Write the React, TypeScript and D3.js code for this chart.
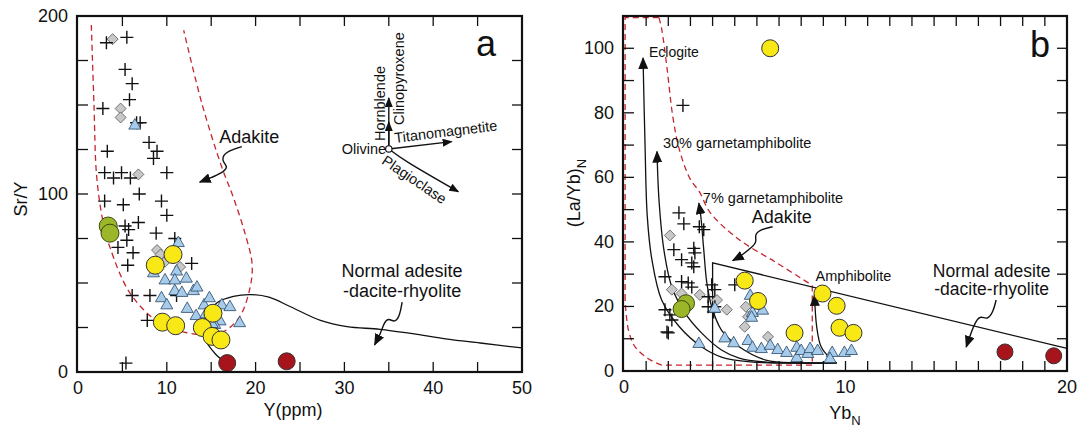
import * as d3 from "d3";

type Pt = [number, number];

// ---------- panel a : Sr/Y vs Y(ppm) ----------
const aCrosses: Pt[] = [
  [3.2, 185], [5.5, 188], [5.3, 170], [6.1, 162], [5.8, 153], [2.8, 148], [6.6, 140], [7.0, 140],
  [3.3, 124], [8.0, 129], [8.9, 124], [8.5, 120], [10.0, 112], [3.0, 112], [4.0, 109], [4.9, 112],
  [5.9, 109], [3.0, 96], [5.1, 94], [6.9, 100], [9.4, 96], [10.0, 88], [5.3, 82], [5.7, 80],
  [6.8, 84], [5.5, 74], [4.5, 70], [6.2, 67], [5.6, 60], [8.8, 78], [10.9, 75], [12.8, 61],
  [6.1, 43], [8.1, 43], [11.1, 43], [7.8, 29], [5.4, 5],
];
const aDiamonds: Pt[] = [
  [3.9, 187], [4.8, 148], [4.8, 143], [6.8, 111], [8.9, 68.5], [9.3, 66], [9.8, 62], [11.5, 59],
];
const aTriangles: Pt[] = [
  [6.4, 139], [11.3, 73], [11.1, 57], [8.5, 56], [9.8, 52], [10.9, 52], [12.2, 53], [10.9, 46],
  [11.7, 45], [13.0, 46], [13.4, 48], [9.4, 42], [10.0, 38], [12.3, 36], [13.3, 32], [14.2, 38],
  [14.8, 42], [16.2, 38], [17.1, 37], [14.4, 33], [16.0, 29], [15.4, 27], [15.1, 27.5], [18.2, 28],
];
const aYellow: Pt[] = [
  [10.7, 66], [8.7, 60], [9.5, 28], [11.0, 26], [15.2, 33], [14.0, 25], [15.1, 20], [16.1, 18],
];
const aGreen: Pt[] = [[3.4, 82], [3.6, 78]];
const aRed: Pt[] = [[16.8, 5], [23.5, 6]];

const aAdakite: Pt[] = [
  [1.5, 195], [1.8, 150], [2.1, 110], [2.8, 85], [3.6, 70], [5.9, 44], [9.2, 27.5], [12.3, 22],
  [14.1, 21], [16.3, 22.5], [18.2, 31], [19.4, 48], [19.6, 61], [18.8, 78], [17.5, 98],
  [16.2, 115], [14, 150], [11.9, 192],
];
const aNormal: Pt[] = [
  [17.3, 3], [15.5, 10], [14.2, 20], [14.3, 30], [15.7, 39], [17.5, 42.5], [19.5, 43.5],
  [21.5, 42], [24, 36.5], [27.3, 29], [30.3, 25.5], [34, 24], [37.7, 21.5], [41.6, 18.5],
  [45.3, 16.3], [50, 13.5],
];
const aAdakiteArrow: Pt[] = [
  [18.45, 126.6], [16.9, 124.2], [16.2, 120.8], [16.4, 117.4], [16.9, 115.2], [16.2, 111.8],
  [14.9, 109], [13.7, 106.7],
];
const aNormalArrow: Pt[] = [
  [36.5, 39.3], [36.26, 32], [35.7, 27.5], [35.0, 30.3], [34.5, 28.1], [34.1, 21.9], [33.4, 15.2],
];
const vecOrigin: Pt = [35.0, 125.3];
const vecHbl: Pt = [35.0, 153.9];
const vecCpx: Pt = [35.0, 140.4];
const vecTimt: Pt = [42.08, 129.4];
const vecPlag: Pt[] = [[35.0, 125.3], [37.4, 117.1], [42.83, 101.3]];

// ---------- panel b : (La/Yb)N vs YbN ----------
const bCrosses: Pt[] = [
  [2.66, 82.3], [2.48, 49], [2.7, 45.6], [3.4, 44.7], [3.6, 43.8], [2.25, 37.6], [2.6, 34.5],
  [3.15, 38], [3.2, 36.6], [3.06, 33.5], [3.15, 32.3], [1.85, 29.2], [2.6, 27.7], [2.9, 27.3],
  [3.06, 26], [3.96, 26.7], [4.1, 25.2], [3.8, 23], [3.8, 19.9], [4.1, 19.9], [4.05, 18.3],
  [1.85, 19], [2.07, 17.4], [2.16, 15.8], [1.94, 12.1], [2.0, 11.8], [5.0, 26.7],
];
const bDiamonds: Pt[] = [
  [2.07, 42], [2.16, 25.2], [2.6, 24], [3.42, 23.6], [4.2, 22], [4.64, 19], [5.5, 19.9],
  [5.6, 16.8], [5.45, 13.7], [6.5, 10.6],
];
const bTriangles: Pt[] = [
  [3.38, 8.7], [4.1, 19.6], [4.55, 10.4], [4.95, 8.9], [5.7, 23.6], [5.8, 18.3], [5.76, 16.8],
  [6.26, 19], [5.6, 9.6], [5.8, 7.5], [6.2, 7.1], [6.6, 8.1], [6.94, 6.8], [7.34, 5.9],
  [7.8, 7.5], [7.8, 4.3], [8.0, 6.5], [8.3, 5.6], [8.4, 7.1], [8.74, 6.5], [9.4, 5.9],
  [9.3, 4], [9.95, 5.9], [10.27, 6.5],
];
const bYellow: Pt[] = [
  [6.6, 100], [5.45, 28], [6.05, 21.7], [7.7, 11.8], [8.96, 24], [9.6, 20.2], [9.73, 13.4],
  [10.36, 11.8],
];
const bGreen: Pt[] = [[2.8, 21], [2.6, 19.2]];
const bRed: Pt[] = [[17.2, 5.9], [19.4, 4.7]];

const bAdakiteTop: Pt[] = [[0.05, 22], [0.05, 109.5], [1.58, 109.5]];
const bAdakiteCurve: Pt[] = [
  [1.58, 109.5], [1.7, 106], [1.94, 94], [2.2, 79], [2.5, 68.6], [3.0, 59.3], [3.4, 55.6],
  [3.9, 49], [5.2, 40.7], [6.9, 33.5], [8.5, 26.5],
];
const bAdakiteSide: Pt[] = [[8.5, 26.5], [8.5, 1.8], [1.7, 1.8]];
const bAdakiteCorner: Pt[] = [[1.7, 1.8], [1.1, 3.8], [0.5, 7.5], [0.2, 12.7], [0.05, 22]];

const eclogite: Pt[] = [
  [0.86, 97], [0.95, 70], [1.05, 48], [1.26, 34.5], [1.7, 22], [2.5, 13.7], [3.5, 7.5],
  [4.4, 4.3], [5.7, 2.8], [7.5, 2.5], [9.6, 2.5],
];
const garnet30: Pt[] = [
  [1.49, 68], [1.58, 53], [1.8, 37.6], [2.16, 26], [2.75, 18], [3.5, 11.8], [4.4, 6.5],
  [5.2, 4], [6.5, 2.7], [9.6, 2.5],
];
const garnet7: Pt[] = [
  [3.38, 52], [3.47, 47.8], [3.6, 37.6], [3.74, 27.3], [3.96, 19.9], [4.4, 12.7], [5.2, 7.5],
  [6.4, 3.4], [7.9, 2.5], [9.6, 2.5],
];
const amphibolite: Pt[] = [[8.6, 23.6], [8.7, 13.7], [8.9, 7.5], [9.3, 4], [9.6, 2.5]];
const bNormalBox: Pt[] = [[4.0, 1.2], [4.0, 33.5], [20, 7]];
const bAdakiteArrow: Pt[] = [
  [6.71, 44.7], [6.13, 43.8], [5.9, 42.2], [5.99, 40.1], [5.81, 38.5], [5.23, 35.4], [4.91, 34.2],
];
const bNormalArrow: Pt[] = [
  [16.8, 22], [16.67, 18.3], [16.4, 15.8], [16.13, 17.1], [15.9, 15.8], [15.68, 12.1], [15.45, 7.45],
];

const FONT = "'Liberation Sans', Arial, Helvetica, sans-serif";
const RED = "#c4262e";
const INK = "#111";

const aX = d3.scaleLinear().domain([0, 50]).range([78, 522]);
const aY = d3.scaleLinear().domain([0, 200]).range([372, 16]);
const bX = d3.scaleLinear().domain([0, 20]).range([624, 1067]);
const bY = d3.scaleLinear().domain([0, 110]).range([371, 16]);

type Scale = d3.ScaleLinear<number, number>;

const pathOf = (sx: Scale, sy: Scale, pts: Pt[], curve: d3.CurveFactory = d3.curveLinear) =>
  d3.line<Pt>().x(d => sx(d[0])).y(d => sy(d[1])).curve(curve)(pts) || "";

function Axes({ sx, sy, xt, yt, xl, yl }: { sx: Scale; sy: Scale; xt: number[]; yt: number[]; xl: number[]; yl: number[] }) {
  const [x0, x1] = sx.range();
  const [y0, y1] = sy.range();
  const tl = 10;
  return (
    <g stroke={INK}>
      {xt.map(v => (
        <g key={"x" + v} strokeWidth={1.3}>
          <line x1={sx(v)} x2={sx(v)} y1={y0} y2={y0 - tl} />
          <line x1={sx(v)} x2={sx(v)} y1={y1} y2={y1 + tl} />
        </g>
      ))}
      {yt.map(v => (
        <g key={"y" + v} strokeWidth={1.3}>
          <line x1={x0} x2={x0 + tl} y1={sy(v)} y2={sy(v)} />
          <line x1={x1} x2={x1 - tl} y1={sy(v)} y2={sy(v)} />
        </g>
      ))}
      <rect x={x0 - 1} y={y1} width={x1 - x0 + 1} height={y0 - y1} fill="none" strokeWidth={2.2} />
      <g stroke="none" fill={INK} fontSize={18}>
        {xl.map(v => (
          <text key={"xl" + v} x={sx(v)} y={y0 + 22} textAnchor="middle">{v}</text>
        ))}
        {yl.map(v => (
          <text key={"yl" + v} x={x0 - 10} y={sy(v) + 6} textAnchor="end">{v}</text>
        ))}
      </g>
    </g>
  );
}

function Scatter({ sx, sy, crosses, diamonds, triangles, green, yellow, red, r }: {
  sx: Scale; sy: Scale; crosses: Pt[]; diamonds: Pt[]; triangles: Pt[]; green: Pt[]; yellow: Pt[]; red: Pt[]; r: number;
}) {
  const s = 6.5;
  return (
    <g>
      {diamonds.map(([a, b], i) => {
        const cx = sx(a), cy = sy(b);
        return <path key={"d" + i} d={`M${cx},${cy - 5.5}L${cx + 5.5},${cy}L${cx},${cy + 5.5}L${cx - 5.5},${cy}Z`}
          fill="#c8c8c8" stroke="#555" strokeWidth={0.8} />;
      })}
      {crosses.map(([a, b], i) => {
        const cx = sx(a), cy = sy(b);
        return <path key={"c" + i} d={`M${cx - s},${cy}H${cx + s}M${cx},${cy - s}V${cy + s}`}
          stroke={INK} strokeWidth={1.4} fill="none" />;
      })}
      {triangles.map(([a, b], i) => {
        const cx = sx(a), cy = sy(b);
        return <path key={"t" + i} d={`M${cx},${cy - 6}L${cx + 6},${cy + 4.5}L${cx - 6},${cy + 4.5}Z`}
          fill="#a7cbea" stroke="#274766" strokeWidth={0.8} />;
      })}
      {green.map(([a, b], i) => (
        <circle key={"g" + i} cx={sx(a)} cy={sy(b)} r={r} fill="#9bb628" stroke="#3b4a12" strokeWidth={1} />
      ))}
      {yellow.map(([a, b], i) => (
        <circle key={"y" + i} cx={sx(a)} cy={sy(b)} r={r} fill="#f8e815" stroke="#333" strokeWidth={1} />
      ))}
      {red.map(([a, b], i) => (
        <circle key={"r" + i} cx={sx(a)} cy={sy(b)} r={r - 0.5} fill="#a8141c" stroke="#333" strokeWidth={1} />
      ))}
    </g>
  );
}

export default function App() {
  const cat = d3.curveCatmullRom.alpha(0.5);
  const dash = "6 4";
  const o = [aX(vecOrigin[0]), aY(vecOrigin[1])];
  return (
    <svg width={1082} height={429} style={{ position: "absolute", left: 0, top: 0, background: "#fff" }}
      fontFamily={FONT}>
      <defs>
        <marker id="ah" viewBox="0 0 12 10" refX="11" refY="5" markerWidth="12" markerHeight="10"
          markerUnits="userSpaceOnUse" orient="auto">
          <path d="M0,0L12,5L0,10Z" fill={INK} />
        </marker>
        <marker id="ahs" viewBox="0 0 10 8" refX="9" refY="4" markerWidth="10" markerHeight="8"
          markerUnits="userSpaceOnUse" orient="auto">
          <path d="M0,0L10,4L0,8Z" fill={INK} />
        </marker>
      </defs>

      {/* ---------- panel a ---------- */}
      <path d={pathOf(aX, aY, aAdakite, cat)} fill="none" stroke={RED} strokeWidth={1.3} strokeDasharray={dash} />
      <path d={pathOf(aX, aY, aNormal, cat)} fill="none" stroke={INK} strokeWidth={1.3} />
      <Scatter sx={aX} sy={aY} crosses={aCrosses} diamonds={aDiamonds} triangles={aTriangles}
        green={aGreen} yellow={aYellow} red={aRed} r={9} />
      <Axes sx={aX} sy={aY} xt={d3.range(5, 50, 5)} yt={d3.range(25, 200, 25)}
        xl={[0, 10, 20, 30, 40, 50]} yl={[0, 100, 200]} />

      <path d={pathOf(aX, aY, aAdakiteArrow, d3.curveBasis)} fill="none" stroke={INK} strokeWidth={1.4} markerEnd="url(#ah)" />
      <path d={pathOf(aX, aY, aNormalArrow, d3.curveBasis)} fill="none" stroke={INK} strokeWidth={1.4} markerEnd="url(#ah)" />
      <text x={aX(15.9)} y={aY(128.6)} fontSize={18} fill={INK}>Adakite</text>
      <text x={aX(36.5)} y={aY(53.4)} fontSize={18} fill={INK} textAnchor="middle">Normal adesite</text>
      <text x={aX(36.5)} y={aY(42.1)} fontSize={18} fill={INK} textAnchor="middle">-dacite-rhyolite</text>

      {/* mineral vectors */}
      <g fill="none" stroke={INK} strokeWidth={1.4}>
        <line x1={o[0]} y1={o[1]} x2={aX(vecHbl[0])} y2={aY(vecHbl[1])} markerEnd="url(#ahs)" />
        <line x1={o[0]} y1={o[1]} x2={aX(vecCpx[0])} y2={aY(vecCpx[1])} markerEnd="url(#ahs)" />
        <line x1={o[0]} y1={o[1]} x2={aX(vecTimt[0])} y2={aY(vecTimt[1])} markerEnd="url(#ahs)" />
        <path d={pathOf(aX, aY, vecPlag, d3.curveNatural)} markerEnd="url(#ahs)" />
      </g>
      <circle cx={o[0]} cy={o[1]} r={3.2} fill="#fff" stroke={INK} strokeWidth={1.2} />
      <g fontSize={14.5} fill={INK}>
        <text x={aX(34.7)} y={aY(122.5)} textAnchor="end">Olivine</text>
        <text transform={`translate(${aX(34.57)},${aY(129.8)}) rotate(-90)`}>Hornblende</text>
        <text transform={`translate(${aX(36.66)},${aY(138.8)}) rotate(-90)`}>Clinopyroxene</text>
        <text transform={`translate(${aX(35.7)},${aY(128.7)}) rotate(-7)`}>Titanomagnetite</text>
        <text transform={`translate(${aX(34.1)},${aY(117.4)}) rotate(34)`}>Plagioclase</text>
      </g>
      <text x={486} y={56} fontSize={36} textAnchor="middle" fill={INK}>a</text>
      <text transform="translate(27,199) rotate(-90)" fontSize={18} textAnchor="middle" fill={INK}>Sr/Y</text>
      <text x={293} y={416} fontSize={18} textAnchor="middle" fill={INK}>Y(ppm)</text>

      {/* ---------- panel b ---------- */}
      <g fill="none" stroke={RED} strokeWidth={1.3} strokeDasharray={dash}>
        <path d={pathOf(bX, bY, bAdakiteTop)} />
        <path d={pathOf(bX, bY, bAdakiteCurve, cat)} />
        <path d={pathOf(bX, bY, bAdakiteSide)} />
        <path d={pathOf(bX, bY, bAdakiteCorner, cat)} />
      </g>
      <g fill="none" stroke={INK} strokeWidth={1.3}>
        <path d={pathOf(bX, bY, [...eclogite].reverse(), cat)} markerEnd="url(#ah)" />
        <path d={pathOf(bX, bY, [...garnet30].reverse(), cat)} markerEnd="url(#ah)" />
        <path d={pathOf(bX, bY, [...garnet7].reverse(), cat)} markerEnd="url(#ah)" />
        <path d={pathOf(bX, bY, [...amphibolite].reverse(), cat)} markerEnd="url(#ah)" />
        <path d={pathOf(bX, bY, bNormalBox)} />
      </g>
      <Scatter sx={bX} sy={bY} crosses={bCrosses} diamonds={bDiamonds} triangles={bTriangles}
        green={bGreen} yellow={bYellow} red={bRed} r={8.5} />
      <Axes sx={bX} sy={bY} xt={d3.range(1, 20)} yt={d3.range(10, 110, 10)}
        xl={[0, 10, 20]} yl={[0, 20, 40, 60, 80, 100]} />

      <path d={pathOf(bX, bY, bAdakiteArrow, d3.curveBasis)} fill="none" stroke={INK} strokeWidth={1.4} markerEnd="url(#ah)" />
      <path d={pathOf(bX, bY, bNormalArrow, d3.curveBasis)} fill="none" stroke={INK} strokeWidth={1.4} markerEnd="url(#ah)" />
      <g fill={INK}>
        <text x={bX(1.13)} y={bY(97.2)} fontSize={14}>Eclogite</text>
        <text x={bX(1.76)} y={bY(69)} fontSize={14.5}>30% garnetamphibolite</text>
        <text x={bX(3.56)} y={bY(52)} fontSize={14.5}>7% garnetamphibolite</text>
        <text x={bX(8.65)} y={bY(28)} fontSize={14.5}>Amphibolite</text>
        <text x={bX(5.77)} y={bY(46)} fontSize={18}>Adakite</text>
        <text x={bX(16.6)} y={bY(29.2)} fontSize={17.5} textAnchor="middle">Normal adesite</text>
        <text x={bX(16.6)} y={bY(23.6)} fontSize={17.5} textAnchor="middle">-dacite-rhyolite</text>
      </g>
      <text x={1040} y={57} fontSize={36} textAnchor="middle" fill={INK}>b</text>
      <text transform="translate(580,193) rotate(-90)" fontSize={18} textAnchor="middle" fill={INK}>
        (La/Yb)<tspan dy={6} fontSize={13}>N</tspan>
      </text>
      <text x={845} y={419} fontSize={18} textAnchor="middle" fill={INK}>
        Yb<tspan dy={6} fontSize={13}>N</tspan>
      </text>
    </svg>
  );
}
